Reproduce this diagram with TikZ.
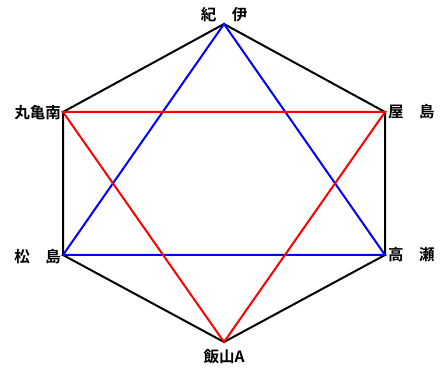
\documentclass[tikz,border=0pt]{standalone}
\usepackage{fontspec}
\newfontfamily\cjk{Noto Sans CJK JP}[BoldFont={Noto Sans CJK JP Bold}]
\usetikzlibrary{positioning}

\tikzset{
  edge_hex/.style={black, line width=2pt, line join=miter},
  edge_blue/.style={blue, line width=2pt, line join=miter},
  edge_red/.style={red, line width=2pt, line join=miter},
  site_lbl/.style={font=\cjk\bfseries\fontsize{15.5}{15.5}\selectfont, inner sep=3pt}
}

\begin{document}
\begin{tikzpicture}[x=1pt, y=-1pt]
  \useasboundingbox (0,0) rectangle (444,371);

  % characteristic coordinates of hexagon
  \coordinate (kii) at (224, 24);
  \coordinate (yashima) at (385, 112);
  \coordinate (takase) at (385, 255);
  \coordinate (iiyama) at (224, 342);
  \coordinate (matsushima) at (63, 255);
  \coordinate (marugame) at (63, 112);

  % hexagon
  \draw[edge_hex] (kii) -- (yashima) -- (takase) -- (iiyama)
    -- (matsushima) -- (marugame) -- cycle;

  % triangles
  \draw[edge_blue] (kii) -- (takase) -- (matsushima) -- cycle;
  \draw[edge_red] (marugame) -- (yashima) -- (iiyama) -- cycle;

  % labels
  \node[site_lbl, above=-1pt of kii] (kii_lbl) {紀　伊};
  \node[site_lbl, right=0pt of yashima] (yashima_lbl) {屋　島};
  \node[site_lbl, right=0pt of takase] (takase_lbl) {高　瀬};
  \node[site_lbl, below=4pt of iiyama] (iiyama_lbl) {飯山A};
  \node[site_lbl, left=-1pt of matsushima, yshift=-2pt] (matsushima_lbl) {松　島};
  \node[site_lbl, left=-1pt of marugame, yshift=-1pt] (marugame_lbl) {丸亀南};
\end{tikzpicture}
\end{document}
